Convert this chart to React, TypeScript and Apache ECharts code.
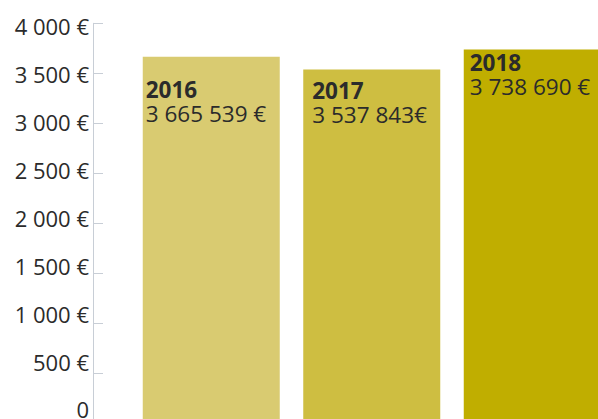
import React, { useEffect, useRef } from "react";
import * as echarts from "echarts";

const years = ["2016", "2017", "2018"];
const values = [3665.539, 3537.843, 3738.69];
const valueLabels = ["3 665 539 €", "3 537 843€", "3 738 690 €"];
const barColors = ["#d9cb71", "#cebe41", "#c0ae00"];
const labelPos: [number, number][] = [
  [3, 21],
  [9, 9],
  [6, 1],
];

const yMin = 0;
const yMax = 4000;
const yStep = 500;
const yLabelValues = [0, 500, 1000, 1500, 2000, 2500, 3000, 3500, 4000];

function fmtY(v: number): string {
  if (v === 0) return "0";
  if (v >= 1000) {
    const th = Math.floor(v / 1000);
    const rest = String(v % 1000).padStart(3, "0");
    return `${th} ${rest} €`;
  }
  return `${v} €`;
}

export default function App() {
  const ref = useRef<HTMLDivElement>(null);
  useEffect(() => {
    if (!ref.current) return;
    const chart = echarts.init(ref.current, null, { renderer: "svg" });
    const textColor = "#2b2b2b";
    const axisColor = "#c8ced6";
    chart.setOption({
      animation: false,
      backgroundColor: "#ffffff",
      grid: {
        left: 131,
        top: 23.3,
        width: 481.5,
        height: 400,
        containLabel: false,
        outerBoundsMode: "none",
      },
      xAxis: {
        type: "category",
        data: years,
        show: false,
      },
      yAxis: [
        {
          type: "value",
          position: "left",
          min: yMin,
          max: yMax,
          interval: yStep,
          offset: 38,
          axisLine: { show: true, lineStyle: { color: axisColor, width: 1 } },
          axisTick: { show: true, inside: true, length: 10, lineStyle: { color: axisColor, width: 1 } },
          splitLine: { show: false },
          axisLabel: { show: false },
        },
        {
          // label-only axis: the reference's labels sit on a slightly tighter pitch than its ticks
          type: "value",
          position: "left",
          min: -144,
          max: 4028,
          offset: 38,
          axisLine: { show: false },
          axisTick: { show: false },
          splitLine: { show: false },
          axisLabel: {
            show: true,
            customValues: yLabelValues,
            margin: 4,
            color: textColor,
            fontFamily: "Open Sans",
            fontSize: 22,
            formatter: fmtY,
          },
        },
      ],
      series: [
        {
          type: "bar",
          yAxisIndex: 0,
          barWidth: 137,
          data: values.map((v, i) => ({
            value: v,
            itemStyle: { color: barColors[i] },
            label: {
              show: true,
              position: labelPos[i],
              align: "left",
              verticalAlign: "top",
              formatter: `{y|${years[i]}}\n{v|${valueLabels[i]}}`,
              rich: {
                y: {
                  fontFamily: "Open Sans",
                  fontWeight: "bold",
                  fontSize: 22.5,
                  lineHeight: 24,
                  color: textColor,
                },
                v: {
                  fontFamily: "Open Sans",
                  fontSize: 22.5,
                  lineHeight: 24,
                  color: textColor,
                },
              },
            },
          })),
        },
      ],
    });
    return () => chart.dispose();
  }, []);
  return (
    <div
      ref={ref}
      style={{ position: "fixed", left: 0, top: 0, width: 598, height: 419, background: "#fff" }}
    />
  );
}
